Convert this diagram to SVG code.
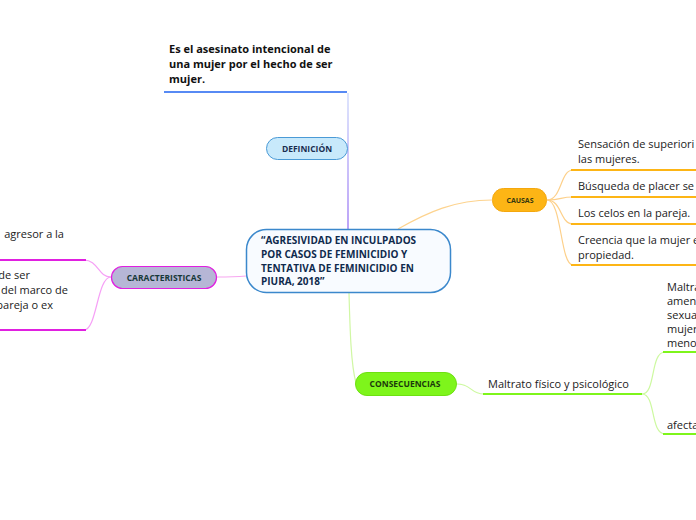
<svg xmlns="http://www.w3.org/2000/svg" width="696" height="520" viewBox="0 0 696 520">
<defs>
<linearGradient id="defGrad" gradientUnits="userSpaceOnUse" x1="348" y1="93" x2="348" y2="229">
<stop offset="0" stop-color="#d2dcfc"/>
<stop offset="1" stop-color="#a584f5"/>
</linearGradient>
<style>
.t{font-family:"Open Sans","Noto Sans","DejaVu Sans",sans-serif;font-size:11px;fill:#222}
.b{font-family:"Open Sans","Noto Sans","DejaVu Sans",sans-serif;font-weight:bold}
.c{fill:none;stroke-width:1.2}
.u{fill:none;stroke-width:2}
</style>
</defs>
<rect width="696" height="520" fill="#ffffff"/>
<g id="connectors">
<line x1="348" y1="229" x2="348" y2="93" stroke="url(#defGrad)" stroke-width="1.5"/>
<line x1="164" y1="92" x2="347" y2="92" stroke="#1f63f0" stroke-width="1.6"/>
<path class="c" d="M398,229 C428,212 455,200 492,200" stroke="#fdd38e"/>
<path class="c" d="M547,200 C562,200 560,170 573,170" stroke="#fdd08a"/>
<path class="c" d="M547,200 C562,200 560,197 573,197" stroke="#fdd08a"/>
<path class="c" d="M547,200 C562,200 560,224 573,224" stroke="#fdd08a"/>
<path class="c" d="M547,200 C562,200 560,265 573,265" stroke="#fdd08a"/>
<path class="u" d="M571,170 H700 M571,197 H700 M571,224 H700 M571,265 H700" stroke="#fdb515"/>
<path class="c" d="M349,293 C350,330 351,365 356,383" stroke="#d0f7a4"/>
<path class="c" d="M457,384 C472,384 470,394 484,394" stroke="#cdf9a0"/>
<path class="u" d="M483,394 H642" stroke="#7ef51b"/>
<path class="c" d="M642,394 C656,394 650,352 665,352" stroke="#cdf9a0"/>
<path class="c" d="M642,394 C656,394 650,434 665,434" stroke="#cdf9a0"/>
<path class="u" d="M663,352 H700 M663,434 H700" stroke="#7ef51b"/>
<path class="c" d="M246,276 C234,277 228,277 217,277" stroke="#f7a6f0"/>
<path class="c" d="M111,277 C98,277 98,260 84,260" stroke="#f6a0f6"/>
<path class="c" d="M111,277 C97,277 97,330 84,330" stroke="#f6a0f6"/>
<path class="u" d="M-5,260 H86 M-5,330 H86" stroke="#e020e0"/>
</g>
<g id="central">
<rect x="246.5" y="229.5" width="204" height="63" rx="20" fill="#f8fbff" stroke="#3b88cc" stroke-width="1.5"/>
<text class="b" font-size="10" fill="#0f2a4d">
<tspan x="261" y="244">“AGRESIVIDAD EN INCULPADOS</tspan>
<tspan x="261" y="258">POR CASOS DE FEMINICIDIO Y</tspan>
<tspan x="261" y="272">TENTATIVA DE FEMINICIDIO EN</tspan>
<tspan x="261" y="285">PIURA, 2018”</tspan>
</text>
</g>
<g id="definicion">
<rect x="266.5" y="137.5" width="81" height="22" rx="11" fill="#c8e9fb" stroke="#4a9ad6" stroke-width="1"/>
<text class="b" x="307" y="151.5" font-size="8.5" text-anchor="middle" fill="#1a2e50">DEFINICIÓN</text>
</g>
<g id="definicion-texto">
<text class="b" font-size="11" fill="#111">
<tspan x="169" y="53">Es el asesinato intencional de</tspan>
<tspan x="169" y="68">una mujer por el hecho de ser</tspan>
<tspan x="169" y="83">mujer.</tspan>
</text>
</g>
<g id="causas">
<rect x="492.5" y="188.5" width="54" height="23" rx="11" fill="#fdb515" stroke="#f4a70e" stroke-width="1"/>
<text class="b" x="520" y="203" font-size="7" text-anchor="middle" fill="#35380f">CAUSAS</text>
</g>
<g id="causa1"><text class="t"><tspan x="578" y="148">Sensación de superiori</tspan><tspan x="578" y="163">las mujeres.</tspan></text></g>
<g id="causa2"><text class="t" x="578" y="190">Búsqueda de placer se</text></g>
<g id="causa3"><text class="t" x="578" y="217">Los celos en la pareja.</text></g>
<g id="causa4"><text class="t"><tspan x="578" y="244">Creencia que la mujer e</tspan><tspan x="578" y="259">propiedad.</tspan></text></g>
<g id="consecuencias">
<rect x="355.5" y="372.5" width="101" height="23" rx="11.5" fill="#7ef51b" stroke="#6ee012" stroke-width="1"/>
<text class="b" x="405" y="387" font-size="8.5" text-anchor="middle" fill="#1c3a0c">CONSECUENCIAS</text>
</g>
<g id="maltrato"><text class="t" x="488" y="388">Maltrato físico y psicológico</text></g>
<g id="maltrato1"><text class="t"><tspan x="667" y="291">Maltra</tspan><tspan x="667" y="305">amen</tspan><tspan x="667" y="319">sexua</tspan><tspan x="667" y="333">mujer</tspan><tspan x="667" y="347">meno</tspan></text></g>
<g id="maltrato2"><text class="t" x="667" y="429">afecta</text></g>
<g id="caracteristicas">
<rect x="111.5" y="266.5" width="105" height="22" rx="11" fill="#b6b6d6" stroke="#e020e0" stroke-width="1.2"/>
<text class="b" x="164" y="280.5" font-size="8.5" text-anchor="middle" fill="#173838">CARACTERISTICAS</text>
</g>
<g id="caracteristica1"><text class="t" x="64" y="238" text-anchor="end">agresor a la</text></g>
<g id="caracteristica2"><text class="t" text-anchor="end"><tspan x="30" y="279">de ser</tspan><tspan x="68" y="294">del marco de</tspan><tspan x="53" y="309">pareja o ex</tspan></text></g>
</svg>
